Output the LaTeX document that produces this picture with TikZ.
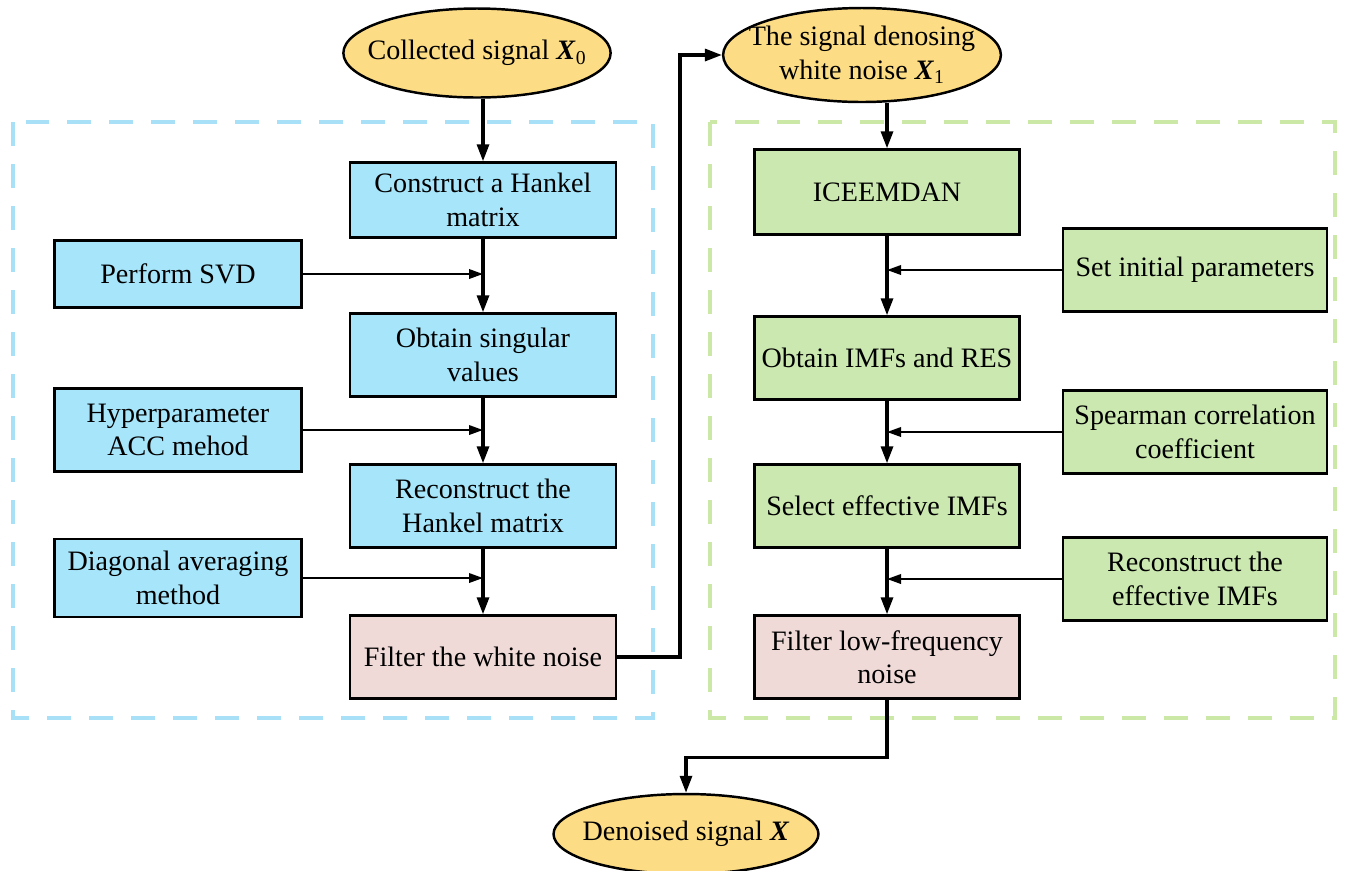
\documentclass[tikz,border=0pt]{standalone}
\usepackage{fontspec}
\setmainfont{Liberation Serif}
\usetikzlibrary{arrows.meta, positioning, shapes.geometric}
\definecolor{boxblue}{RGB}{166,229,250}
\definecolor{boxgreen}{RGB}{203,232,176}
\definecolor{boxpink}{RGB}{240,218,216}
\definecolor{ovalyellow}{RGB}{252,220,132}
\definecolor{dashblue}{RGB}{168,224,248}
\definecolor{dashgreen}{RGB}{204,232,166}

\begin{document}
\begin{tikzpicture}[
  x=0.02cm, y=-0.02cm,
  every node/.style={font=\fontsize{16}{19}\selectfont},
  box/.style={draw, line width=1.4pt, minimum width=5.32cm, minimum height=1.66cm,
              align=center, inner sep=2pt},
  sbox/.style={box, fill=boxblue},
  gbox/.style={box, fill=boxgreen},
  pbox/.style={box, fill=boxpink},
  side/.style={minimum width=4.94cm},
  oval/.style={ellipse, draw, line width=1.4pt, fill=ovalyellow, inner ysep=0pt,
               inner xsep=-0.3cm, minimum width=5.26cm, minimum height=1.78cm,
               align=center},
  arr/.style={line width=1.8pt, -{Triangle[length=0.34cm, width=0.24cm]}},
  sarr/.style={line width=1.1pt, -{Triangle[length=0.28cm, width=0.19cm]}},
  region/.style={line width=2.2pt, dash pattern=on 0.48cm off 0.36cm}
]
  \useasboundingbox (0,0) rectangle (1354,870);

  % dashed regions
  \draw[region, dashblue]  (13,122) rectangle (653,718);
  \draw[region, dashgreen] (710,122) rectangle (1335,718);

  % ovals
  \node[oval] (x0) at (477,53) {Collected signal \textbf{\textit{X}}\textsubscript{0}};
  \node[oval, minimum width=5.5cm, minimum height=1.88cm] (x1) at (862,55)
       {The signal denosing\\white noise \textbf{\textit{X}}\textsubscript{1}};
  \node[oval, minimum width=5.3cm, minimum height=1.6cm] (den) at (686,834) {Denoised signal \textbf{\textit{X}}};

  % SVD part
  \node[sbox, minimum height=1.5cm] (hank)  at (483,200) {Construct a Hankel\\matrix};
  \node[sbox] (sing)  at (483,355) {Obtain singular\\values};
  \node[sbox] (rhank) at (483,506) {Reconstruct the\\Hankel matrix};
  \node[pbox] (filt1) at (483,657) {Filter the white noise};
  \node[sbox, side, minimum height=1.34cm] (svd) at (178,274) {Perform SVD};
  \node[sbox, side] (hyp)  at (178,430) {Hyperparameter\\ACC mehod};
  \node[sbox, side, minimum height=1.56cm] (diag) at (178,578) {Diagonal averaging\\method};

  % ICEEMDAN part
  \node[gbox, minimum width=5.3cm, minimum height=1.7cm] (ice) at (887,192) {ICEEMDAN};
  \node[gbox, minimum width=5.3cm] (imf)   at (887,358) {Obtain IMFs and RES};
  \node[gbox, minimum width=5.3cm] (sel)   at (887,506) {Select effective IMFs};
  \node[pbox, minimum width=5.3cm] (filt2) at (887,657) {Filter low-frequency\\noise};
  \node[gbox, minimum width=5.28cm] (init) at (1195,270) {Set initial parameters};
  \node[gbox, minimum width=5.28cm] (spear) at (1195,432) {Spearman correlation\\coefficient};
  \node[gbox, minimum width=5.28cm] (reimf) at (1195,579) {Reconstruct the\\effective IMFs};

  % main flow
  \draw[arr] (x0.south -| hank.north) -- (hank.north);
  \draw[arr] (hank) -- (sing);
  \draw[arr] (sing) -- (rhank);
  \draw[arr] (rhank) -- (filt1);
  \draw[arr] (filt1.east) -- (680,657) |- (x1.west);
  \draw[arr] (x1.south -| ice.north) -- (ice.north);
  \draw[arr] (ice) -- (imf);
  \draw[arr] (imf) -- (sel);
  \draw[arr] (sel) -- (filt2);
  \draw[arr] (filt2.south) -- ++(0,58) -| (den.north);

  % side inputs
  \draw[sarr] (svd.east)  -- (svd.east -| hank.south);
  \draw[sarr] (hyp.east)  -- (hyp.east -| sing.south);
  \draw[sarr] (diag.east) -- (diag.east -| rhank.south);
  \draw[sarr] (init.west)  -- (init.west -| ice.south);
  \draw[sarr] (spear.west) -- (spear.west -| imf.south);
  \draw[sarr] (reimf.west) -- (reimf.west -| sel.south);
\end{tikzpicture}
\end{document}
